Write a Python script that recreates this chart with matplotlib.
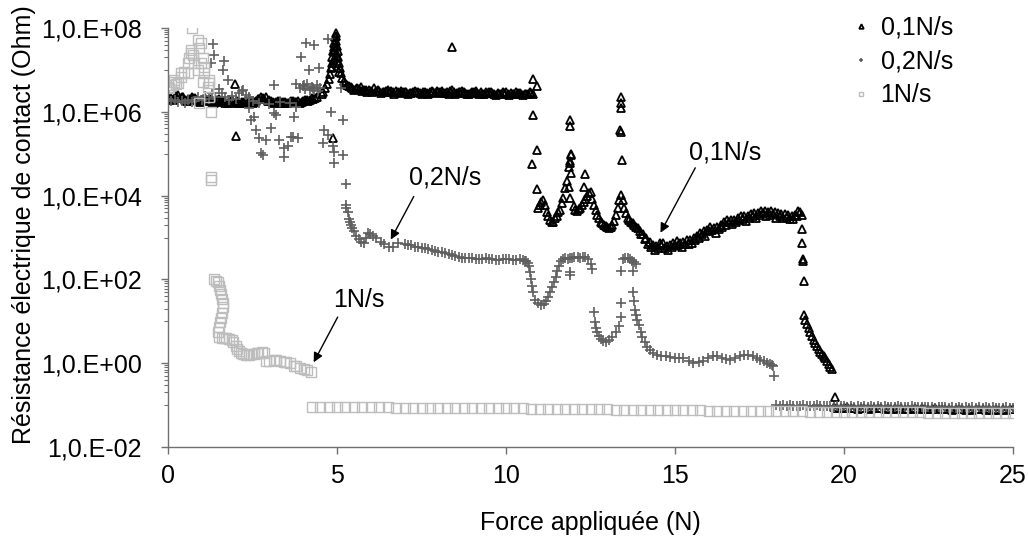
import matplotlib
matplotlib.use("Agg")
import matplotlib.pyplot as plt
from matplotlib.ticker import FixedLocator, NullFormatter

plt.rcParams['font.family'] = ['Liberation Sans', 'DejaVu Sans']

# ---------------- data : 0,1N/s ----------------
f01_a = [0.0,0.2,0.4,0.6,0.8,1.0,1.2,1.4,1.6,1.8,2.0,2.2,2.4,2.6,2.8,3.0,3.2,3.4,3.6,3.8,4.0,4.2,4.4,
         0.1,0.3,0.5,0.7,0.9,1.1,1.3,1.5,1.7,1.9,2.1,2.3,2.5,2.7,2.9,3.1,3.3,3.5,3.7,3.9,4.1,4.3]
r01_a = [2.5e6,2.2e6,2.3e6,2.0e6,2.1e6,1.9e6,1.9e6,1.8e6,1.8e6,1.7e6,1.7e6,1.7e6,1.7e6,1.8e6,2.1e6,1.9e6,1.7e6,1.7e6,1.7e6,1.7e6,1.8e6,1.9e6,2.2e6,
         2.1e6,2.5e6,1.9e6,2.2e6,1.8e6,2.1e6,1.7e6,2.0e6,1.6e6,1.9e6,1.6e6,1.8e6,1.6e6,2.0e6,2.3e6,1.7e6,1.8e6,1.6e6,1.8e6,1.6e6,1.9e6,2.0e6]
f01_a2 = [0.05,0.15,0.25,0.35,0.45,0.55,0.65,0.75,0.85,0.95,1.05,1.15,1.25,1.35,1.45,1.55,1.65,1.75,1.85,1.95,2.05,2.15,
          2.25,2.35,2.45,2.55,2.65,2.75,2.85,2.95,3.05,3.15,3.25,3.35,3.45,3.55,3.65,3.75,3.85,3.95,4.05,4.15,4.25,4.35]
r01_a2 = [2.3e6,1.9e6,2.4e6,2.1e6,2.2e6,1.8e6,2.0e6,2.1e6,1.9e6,1.7e6,2.0e6,1.8e6,2.0e6,1.6e6,1.9e6,1.7e6,1.8e6,1.6e6,1.8e6,1.6e6,1.8e6,1.6e6,
          1.7e6,1.6e6,1.8e6,1.7e6,2.0e6,2.3e6,2.0e6,1.8e6,1.8e6,1.6e6,1.8e6,1.6e6,1.7e6,1.6e6,1.8e6,1.7e6,1.8e6,1.7e6,1.9e6,1.8e6,2.1e6,2.1e6]
f01_peak = [4.55,4.6,4.65,4.7,4.75,4.78,4.81,4.84,4.86,4.88,4.9,4.92,4.94,4.96,4.97,4.98,5.0,5.02,5.04,5.06,5.09,5.12,5.16,5.2,5.25,5.3,5.35,
            4.86,4.91,4.96,5.01,5.06,4.94,4.99]
r01_peak = [2.6e6,3.0e6,3.6e6,4.5e6,6.0e6,8.0e6,1.1e7,1.5e7,2.0e7,2.8e7,3.5e7,4.5e7,6.0e7,7.8e7,6.5e7,5.0e7,3.8e7,2.8e7,2.0e7,1.5e7,1.1e7,8.5e6,6.5e6,5.5e6,4.8e6,4.4e6,4.2e6,
            1.2e7,1.8e7,2.5e7,1.6e7,9.0e6,3.0e7,2.2e7]
f01_b = [5.4,5.6,5.8,6.0,6.2,6.4,6.6,6.8,7.0,7.2,7.4,7.6,7.8,8.0,8.2,8.4,8.6,8.8,9.0,9.2,9.4,9.6,9.8,10.0,10.2,10.4,10.6,10.8,
         5.5,5.7,5.9,6.1,6.3,6.5,6.7,6.9,7.1,7.3,7.5,7.7,7.9,8.1,8.3,8.5,8.7,8.9,9.1,9.3,9.5,9.7,9.9,10.1,10.3,10.5,10.7]
r01_b = [4.0e6,3.6e6,3.4e6,3.2e6,3.3e6,3.0e6,3.1e6,2.9e6,3.0e6,2.8e6,3.0e6,2.9e6,3.2e6,3.0e6,2.8e6,3.3e6,2.9e6,2.8e6,3.0e6,2.7e6,2.9e6,2.8e6,2.7e6,2.9e6,2.7e6,2.8e6,2.6e6,2.7e6,
         3.3e6,3.9e6,3.0e6,3.6e6,2.8e6,3.3e6,2.7e6,3.2e6,2.6e6,3.1e6,2.7e6,2.6e6,2.8e6,3.2e6,2.6e6,2.7e6,3.1e6,2.6e6,3.1e6,2.6e6,3.0e6,2.5e6,3.0e6,2.5e6,3.0e6,2.5e6,2.9e6]
f01_b2 = [5.45,5.55,5.65,5.75,5.85,5.95,6.05,6.15,6.25,6.35,6.45,6.55,6.65,6.75,6.85,6.95,7.05,7.15,7.25,7.35,
          7.45,7.55,7.65,7.75,7.85,7.95,8.05,8.15,8.25,8.35,8.45,8.55,8.65,8.75,8.85,8.95,9.05,9.15,9.25,9.35,
          9.45,9.55,9.65,9.75,9.85,9.95,10.05,10.15,10.25,10.35,10.45,10.55,10.65,10.75]
r01_b2 = [3.7e6,3.5e6,3.5e6,3.2e6,3.3e6,3.4e6,3.0e6,3.2e6,3.1e6,2.9e6,3.1e6,3.0e6,2.9e6,3.1e6,2.8e6,3.0e6,2.9e6,2.8e6,3.0e6,2.9e6,
          2.8e6,3.0e6,2.8e6,2.9e6,3.0e6,3.1e6,2.9e6,2.8e6,3.0e6,3.1e6,2.9e6,2.8e6,2.9e6,3.0e6,2.7e6,2.8e6,2.9e6,2.8e6,2.9e6,2.7e6,
          2.8e6,2.9e6,2.7e6,2.8e6,2.7e6,2.8e6,2.6e6,2.8e6,2.7e6,2.8e6,2.6e6,2.7e6,2.6e6,2.8e6]
f01_drop = [10.79,10.93,10.79,10.93,10.76,10.93]
r01_drop = [6e6,4.2e6,8.5e5,1.2e5,5.8e4,1.4e4]
f01_out = [1.98,2.0,4.88,8.4,11.91,11.88,11.85,11.91,11.9,11.9,11.93,11.9,12.35,12.32,13.42,13.39,13.39,13.39,13.36,13.39]
r01_out = [4.6e6,2.7e5,2.4e5,3.5e7,9.5e4,6.8e4,4.9e4,3.5e4,6.2e5,4.6e5,1.0e5,6.0e4,3.2e4,1.6e4,7.2e4,2.2e6,1.6e6,1.2e6,3.7e5,3.3e5]
f01_c = [10.95,11.0,11.05,11.1,11.15,11.2,11.3,11.4,11.5,11.6,11.7,11.75,11.8,11.85,11.9,12.0,12.1,12.2,12.3,12.35,12.4,12.5,12.6,12.7,12.8,12.9,
         13.0,13.1,13.2,13.3,13.35,13.4,13.45,13.5,13.6,13.7,13.8,13.9,
         14.0,14.1,14.2,14.3,14.4,14.5,14.6,14.7,14.8,14.9,15.0,15.1,15.2,15.3,15.4,15.5,15.6,15.7,15.8,15.9,
         16.0,16.1,16.2,16.3,16.4,16.5,16.6,16.7,16.8,16.9,17.0,17.1,17.2,17.3,17.4,17.5,17.6,17.7,17.8,17.9,
         18.0,18.1,18.2,18.3,18.4,18.5,18.6,18.7,18.75]
r01_c = [5e3,6e3,7e3,8e3,6e3,4e3,2.6e3,2.4e3,3.2e3,4.6e3,9e3,1.5e4,2.2e4,1.6e4,9e3,5.5e3,4.2e3,5e3,7e3,8.5e3,1.0e4,1.2e4,6e3,3.5e3,2.4e3,2.0e3,
         1.8e3,1.8e3,2.5e3,5e3,8e3,1.05e4,8e3,5e3,3e3,2.3e3,2.0e3,1.7e3,
         1.2e3,9e2,7e2,6e2,5e2,5.5e2,6.5e2,5.5e2,5e2,6e2,6.5e2,6.5e2,6.0e2,7.0e2,7.0e2,7.5e2,8.5e2,1.0e3,1.2e3,1.1e3,
         1.4e3,1.5e3,1.3e3,1.6e3,1.8e3,2.0e3,2.3e3,2.1e3,2.3e3,2.6e3,2.8e3,2.5e3,2.9e3,3.3e3,3.0e3,3.5e3,3.8e3,3.2e3,3.4e3,3.6e3,
         3.0e3,3.3e3,2.9e3,3.1e3,2.8e3,2.7e3,3.2e3,4.0e3,3.5e3]
f01_c2 = [11.25,11.35,11.45,11.55,11.65,12.05,12.15,12.25,12.45,12.55,12.65,12.75,12.85,12.95,13.05,13.15,13.25,13.55,13.65,13.75,13.85,13.95,
          14.05,14.15,14.25,14.35,14.45,14.55,14.65,14.75,14.85,14.95,15.05,15.15,15.25,15.35,15.45,15.55,15.65,15.75,15.85,15.95,
          16.05,16.15,16.25,16.35,16.45,16.55,16.65,16.75,16.85,16.95,17.05,17.15,17.25,17.35,17.45,17.55,17.65,17.75,17.85,17.95,
          18.05,18.15,18.25,18.35,18.45,18.55,18.65]
r01_c2 = [3.2e3,2.3e3,2.9e3,4.0e3,6.5e3,4.5e3,4.8e3,6.0e3,1.15e4,8.5e3,4.5e3,2.9e3,2.2e3,1.9e3,1.7e3,2.0e3,3.4e3,3.8e3,2.6e3,2.2e3,1.8e3,1.4e3,
          1.2e3,9.5e2,7.8e2,6.6e2,6.2e2,7.2e2,7.2e2,6.2e2,6.6e2,7.4e2,8.2e2,7.4e2,7.8e2,8.6e2,8.6e2,9.6e2,1.1e3,1.3e3,1.4e3,1.5e3,
          1.75e3,1.7e3,1.75e3,2.0e3,2.3e3,2.6e3,2.6e3,2.6e3,2.9e3,3.2e3,3.2e3,3.2e3,3.7e3,3.8e3,3.9e3,4.4e3,4.2e3,4.0e3,4.2e3,4.0e3,
          3.8e3,3.7e3,3.6e3,3.5e3,3.3e3,3.5e3,4.3e3]
f01_d = [18.76,18.77,18.78,18.8,18.82,18.83,18.85,18.9,18.95,19.0,19.05,19.1,19.15,19.2,19.25,19.3,19.35,19.4,19.45,19.5,19.55,19.6,19.65,19.72]
r01_d = [1.6e3,7.5e2,3.0e2,2.8e2,90,14,11,8.5,6.8,5.5,4.5,3.6,3.0,2.6,2.2,1.9,1.7,1.5,1.3,1.1,0.95,0.82,0.72,0.16]
f01_low = [19.7,19.9,20.1,20.3,20.5,20.7,20.9,21.1,21.3,21.5,21.7,21.9,22.1,22.3,22.5,22.7,22.9,23.1,23.3,23.5,23.7,23.9,24.1,24.3,24.5,24.7,24.9,25.0,
           19.8,20.0,20.2,20.4,20.6,20.8,21.0,21.2,21.4,21.6,21.8,22.0,22.2,22.4,22.6,22.8,23.0,23.2,23.4,23.6,23.8,24.0,24.2,24.4,24.6,24.8]
r01_low = [0.088,0.086,0.088,0.085,0.087,0.084,0.086,0.085,0.083,0.085,0.084,0.082,0.084,0.083,0.081,0.083,0.082,0.080,0.082,0.081,0.080,0.081,0.079,0.080,0.081,0.079,0.080,0.079,
           0.084,0.083,0.084,0.082,0.083,0.081,0.083,0.082,0.080,0.082,0.081,0.080,0.081,0.080,0.079,0.080,0.079,0.078,0.079,0.078,0.078,0.079,0.077,0.078,0.077,0.078]

# ---------------- data : 0,2N/s ----------------
f02_a = [0.0,0.1,0.2,0.3,0.4,0.5,0.6,0.7,0.8,0.9,1.0,1.1,1.2,1.3,1.4,
         1.5,1.6,1.7,1.8,1.9,2.0,2.1,2.2,2.3,2.4,2.5,
         2.7,3.0,3.3,3.6,3.8,3.9,4.0,4.05,4.1,4.2,4.25,4.3,4.4,4.45,4.5]
r02_a = [2.0e6,1.8e6,1.9e6,1.7e6,1.8e6,1.6e6,1.9e6,1.7e6,1.8e6,2.2e6,1.9e6,2.4e6,2.0e6,2.8e6,2.2e6,
         3.5e6,2.8e6,2.2e6,1.9e6,2.4e6,2.0e6,2.8e6,3.2e6,2.5e6,2.2e6,1.8e6,
         1.6e6,1.5e6,1.7e6,1.6e6,4.5e6,3.8e6,4.2e6,3.5e6,4.6e6,3.3e6,4.0e6,3.6e6,4.3e6,3.1e6,3.8e6]
f02_out = [1.33,1.36,1.27,1.65,1.63,1.77,2.22,2.39,2.39,2.45,2.54,2.6,2.69,2.75,2.81,2.9,3.04,3.13,3.13,3.19,3.28,3.43,3.43,3.55,3.63,
           3.69,3.72,3.78,3.84,3.93,4.08,4.31,4.17,4.46,4.02,4.31,4.61,4.58,4.73,4.88,4.9,4.9,5.17,5.17,4.82,5.11,4.73,5.26]
r02_out = [4.2e7,2.3e7,1.5e7,1.6e7,1.0e7,5.8e6,3.3e6,2.1e6,1.25e6,6.5e5,7.6e5,3.7e5,2.4e5,1.05e5,9.5e4,2.1e5,4.2e5,4.4e6,9.5e5,8.5e5,2.1e5,8.5e4,1.4e5,1.5e5,2.5e5,
           2.5e5,7.6e5,1.3e6,2.4e5,2.0e7,4.4e7,4.0e7,1.0e7,1.1e7,4.4e6,3.3e6,3.7e5,1.8e5,2.8e5,1.5e5,1.1e5,6.1e4,9.5e4,6.5e5,1.0e6,3.7e6,5.5e7,1.9e4]
f02_b = [5.26,5.28,5.32,5.35,5.38,5.41,5.45,5.5,5.57,5.64,5.7,5.79,5.85,5.91,5.98,6.06,6.15,6.29,6.4,6.53,6.65,6.8,
         7.0,7.2,7.4,7.6,7.8,8.0,8.2,8.4,8.6,8.8,9.0,9.2,9.4,9.6,9.8,10.0,10.2,10.4,10.55,
         7.1,7.3,7.5,7.7,7.9,8.1,8.3,8.5,8.7,8.9,9.1,9.3,9.5,9.7,9.9,10.1,10.3,10.5]
r02_b = [6e3,5e3,4e3,2.7e3,2.3e3,2e3,1.7e3,1.4e3,1.1e3,9e2,8e2,7.5e2,1.0e3,1.3e3,1.2e3,1.1e3,1.0e3,8e2,7e2,5.8e2,6e2,7.5e2,
         7e2,6.5e2,5.8e2,5.5e2,5e2,4.6e2,4.2e2,3.8e2,3.4e2,3.2e2,3.3e2,3.0e2,3.2e2,3.0e2,2.9e2,3.1e2,2.9e2,3.0e2,2.8e2,
         6.8e2,6.0e2,5.7e2,5.2e2,4.8e2,4.4e2,4.0e2,3.6e2,3.3e2,3.3e2,3.1e2,3.1e2,3.1e2,2.9e2,3.0e2,3.0e2,2.9e2,2.9e2]
f02_dip1 = [10.6,10.65,10.67,10.7,10.73,10.76,10.8,10.87,10.95,11.05,11.12,11.17,11.23,11.29,11.35,11.41,11.47,11.52,11.58,11.64,
            11.7,11.76,11.82,11.88,11.95,12.0,12.12,12.2,12.28,12.35,12.42,12.5,12.53,11.88,11.88]
r02_dip1 = [2.8e2,2.5e2,2.1e2,1.5e2,1.0e2,70,49,33,28,24,26,30,38,49,65,85,115,155,210,270,
            300,320,310,330,320,340,340,330,350,340,300,230,175,130,150]
f02_dip2 = [12.59,12.62,12.66,12.7,12.75,12.8,12.88,12.97,13.05,13.15,13.24,13.33,13.39,13.39,13.39,13.45,13.52,13.6,13.67,13.74,13.8,13.86,13.77]
r02_dip2 = [17,9.6,7,5.5,4.5,3.8,3.4,3.2,3.5,4.2,5.5,7.6,13,28,155,300,320,320,300,280,260,230,155]
f02_c = [13.77,13.8,13.83,13.86,13.89,13.93,13.98,14.03,14.1,14.18,14.26,14.35,14.48,14.6,14.73,14.86,15.0,15.12,15.25,15.4,
         15.54,15.7,15.84,15.98,16.12,16.25,16.38,16.51,16.64,16.78,16.92,17.05,17.17,17.3,17.42,17.52,17.62,17.72,17.82,17.87,17.9,17.92]
r02_c = [49,30,19,14,11,8,5.5,4.2,3.2,2.5,2.1,1.8,1.6,1.5,1.45,1.4,1.35,1.3,1.3,1.15,
         1.0,1.05,1.1,1.3,1.45,1.5,1.35,1.25,1.2,1.3,1.45,1.55,1.6,1.5,1.35,1.2,1.1,1.0,0.95,0.9,0.85,0.5]
f02_low = [18.0,18.2,18.4,18.6,18.8,19.0,19.2,19.4,19.6,19.8,20.0,20.2,20.4,20.6,20.8,21.0,21.2,21.4,21.6,21.8,
           22.0,22.2,22.4,22.6,22.8,23.0,23.2,23.4,23.6,23.8,24.0,24.2,24.4,24.6,24.8,25.0,
           18.1,18.3,18.5,18.7,18.9,19.1,19.3,19.5,19.7,19.9,20.1,20.3,20.5,20.7,20.9,21.1,21.3,21.5,21.7,21.9,
           22.1,22.3,22.5,22.7,22.9,23.1,23.3,23.5,23.7,23.9,24.1,24.3,24.5,24.7,24.9]
r02_low = [0.100,0.098,0.100,0.097,0.099,0.096,0.098,0.095,0.097,0.095,0.096,0.094,0.096,0.093,0.095,0.093,0.094,0.092,0.094,0.092,
           0.093,0.091,0.092,0.090,0.092,0.090,0.091,0.089,0.090,0.088,0.090,0.088,0.089,0.087,0.088,0.087,
           0.096,0.097,0.095,0.096,0.094,0.095,0.093,0.094,0.092,0.093,0.092,0.091,0.092,0.090,0.091,0.090,0.090,0.089,0.090,0.088,
           0.089,0.088,0.088,0.087,0.088,0.086,0.087,0.086,0.086,0.085,0.086,0.085,0.085,0.084,0.085]

# ---------------- data : 1N/s ----------------
f1_a = [0.0,0.03,0.09,0.18,0.18,0.24,0.3,0.38,0.38,0.47,0.59,0.59,0.62,0.68,0.68,0.7,0.74,0.77,0.89,0.89,0.92,0.98,0.98,
        1.03,1.03,1.06,1.06,1.18,1.21,1.21,1.21,0.92,1.27,1.27,1.27]
r1_a = [4.0e6,3.7e6,4.4e6,5.1e6,5.8e6,4.6e6,5.0e6,6.8e6,8.5e6,8.9e6,1.5e7,8.5e6,1.95e7,3.0e7,2.5e7,1.0e8,2.3e7,1.5e7,5.1e7,1.0e7,3.3e7,4.4e7,1.5e7,
        1.95e7,5.2e6,1.2e7,8.5e6,4.0e6,5.8e6,4.9e6,2.3e6,1.6e6,1.0e6,2.8e4,2.4e4]
f1_b = [1.36,1.42,1.48,1.51,1.54,1.57,1.6,1.63,1.62,1.6,1.57,1.54,1.51,1.49,1.51,1.6,1.65,1.71,1.8,1.88,1.92,2.0,2.05,2.1,2.16,2.22,
        2.32,2.39,2.45,2.55,2.62,2.66,2.77,2.84,2.9,3.0,3.13,3.2,3.3,3.43,3.5,3.6,3.72,3.8,3.9,4.02,4.12,4.23]
r1_b = [100,92,85,68,55,44,35,28,22,16,12,9.6,7.5,5.5,4.2,4.1,4.0,4.0,3.8,3.5,3.2,2.6,2.2,2.0,1.8,1.7,
        1.6,1.6,1.7,1.7,1.75,1.8,1.85,1.8,1.1,1.15,1.2,1.18,1.15,1.05,1.05,1.0,0.85,0.85,0.78,0.72,0.68,0.62]
f1_low = [4.25,4.5,4.75,5.0,5.25,5.5,5.75,6.0,6.25,6.5,6.75,7.0,7.25,7.5,7.75,8.0,8.25,8.5,8.75,9.0,9.25,9.5,9.75,
          10.0,10.25,10.5,10.75,11.0,11.25,11.5,11.75,12.0,12.25,12.5,12.75,13.0,13.25,13.5,13.75,14.0,14.25,14.5,14.75,
          15.0,15.25,15.5,15.75,16.0,16.25,16.5,16.75,17.0,17.25,17.5,17.75,18.0,18.25,18.5,18.75,19.0,19.25,19.5,19.75,
          20.0,20.25,20.5,20.75,21.0,21.25,21.5,21.75,22.0,22.25,22.5,22.75,23.0,23.25,23.5,23.75,24.0,24.25,24.5,24.75,25.0]
r1_low = [0.090,0.090,0.089,0.089,0.089,0.089,0.088,0.088,0.088,0.088,0.087,0.087,0.087,0.086,0.086,0.086,0.086,0.085,0.085,
          0.085,0.084,0.084,0.084,0.083,0.083,0.083,0.082,0.082,0.081,0.081,0.081,0.080,0.080,0.079,0.079,0.079,0.078,0.078,0.077,
          0.077,0.077,0.076,0.076,0.076,0.075,0.075,0.075,0.074,0.074,0.074,0.073,0.073,0.073,0.072,0.072,0.072,0.071,0.071,0.071,
          0.070,0.070,0.070,0.069,0.069,0.069,0.068,0.068,0.068,0.068,0.067,0.067,0.067,0.067,0.066,0.066,0.066,0.066,0.066,0.065,
          0.065,0.065,0.065,0.065,0.064]

labels = ['0,1N/s', '0,2N/s', '1N/s']
ytick_vals = [1e-2, 1e0, 1e2, 1e4, 1e6, 1e8]
ytick_labels = ['1,0.E-02', '1,0.E+00', '1,0.E+02', '1,0.E+04', '1,0.E+06', '1,0.E+08']
xtick_vals = [0, 5, 10, 15, 20, 25]

f01 = f01_a + f01_a2 + f01_peak + f01_b + f01_b2 + f01_drop + f01_out + f01_c + f01_c2 + f01_d + f01_low
r01 = r01_a + r01_a2 + r01_peak + r01_b + r01_b2 + r01_drop + r01_out + r01_c + r01_c2 + r01_d + r01_low
f02 = f02_a + f02_out + f02_b + f02_dip1 + f02_dip2 + f02_c + f02_low
r02 = r02_a + r02_out + r02_b + r02_dip1 + r02_dip2 + r02_c + r02_low
f1 = f1_a + f1_b + f1_low
r1 = r1_a + r1_b + r1_low

fig = plt.figure(figsize=(10.28, 5.42), dpi=100)
ax = fig.add_axes([168/1028, 1-447/542, (1013-168)/1028, (447-28)/542])

ax.plot(f01, r01, linestyle='none', marker='^', ms=6, mfc='none', mec='black', mew=1.3, label=labels[0])
ax.plot(f02, r02, linestyle='none', marker='+', ms=6.5, mec='#5f5f5f', mew=1.2, label=labels[1])
ax.plot(f1, r1, linestyle='none', marker='s', ms=6.5, mfc='none', mec='#bdbdbd', mew=1.0, label=labels[2])

ax.set_yscale('log')
ax.set_xlim(0, 25)
ax.set_ylim(1e-2, 1e8)
ax.set_xticks(xtick_vals)
ax.set_xticklabels([str(v) for v in xtick_vals])
ax.yaxis.set_major_locator(FixedLocator(ytick_vals))
ax.set_yticklabels(ytick_labels)
ax.yaxis.set_minor_locator(FixedLocator([k * 10.0 ** e for e in (-1, 1, 3, 5, 7) for k in range(1, 10)]))
ax.yaxis.set_minor_formatter(NullFormatter())

for s in ('top', 'right'):
    ax.spines[s].set_visible(False)
for s in ('left', 'bottom'):
    ax.spines[s].set_color('#707070')
    ax.spines[s].set_linewidth(1.0)
ax.tick_params(axis='both', which='major', direction='out', length=5, width=1, color='#707070', labelsize=18, labelcolor='black')
ax.tick_params(axis='y', which='major', pad=14)
ax.tick_params(axis='x', which='major', pad=7)
ax.tick_params(axis='y', which='minor', direction='out', length=3, width=0.8, color='#707070')

ax.set_xlabel('Force appliquée (N)', fontsize=18, labelpad=17)
ax.set_ylabel('Résistance électrique de contact (Ohm)', fontsize=18)
ax.yaxis.set_label_coords(-0.156, 0.53)

arrow = dict(arrowstyle='-|>', color='black', lw=1.0, shrinkA=0, shrinkB=0, mutation_scale=14)
ax.annotate('', xy=(6.59, 890), xytext=(7.27, 9.5e3), arrowprops=arrow)
ax.annotate('', xy=(14.57, 1.3e3), xytext=(15.6, 4.6e4), arrowprops=arrow)
ax.annotate('', xy=(4.31, 1.05), xytext=(5.02, 12.6), arrowprops=arrow)
ax.text(8.19, 2.7e4, '0,2N/s', fontsize=18, ha='center', va='center')
ax.text(16.49, 1.05e5, '0,1N/s', fontsize=18, ha='center', va='center')
ax.text(5.64, 31.6, '1N/s', fontsize=18, ha='center', va='center')

leg = ax.legend(loc='upper left', bbox_to_anchor=(838/1028, 1 - 3/542), bbox_transform=fig.transFigure,
                frameon=False, fontsize=18, handlelength=0.8, handletextpad=0.4, labelspacing=0.4,
                borderpad=0, markerscale=0.55)

fig.savefig('out.png', dpi=100)
